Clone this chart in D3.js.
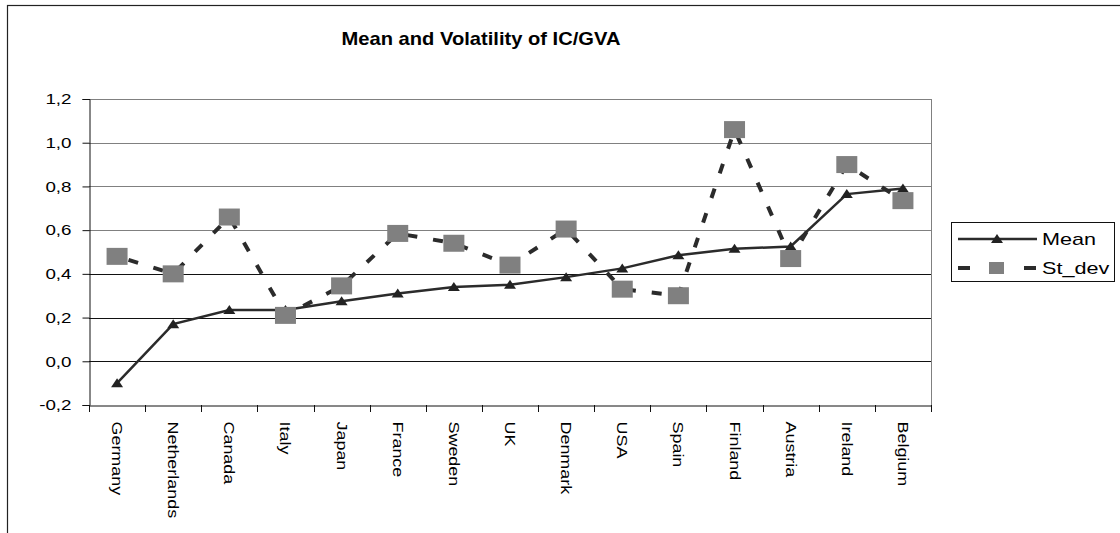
<!DOCTYPE html>
<html>
<head>
<meta charset="utf-8">
<script src="https://cdn.jsdelivr.net/npm/d3@7"></script>
<style>
  body { margin: 0; background: #fff; }
  svg text { font-family: "Liberation Sans", Arial, sans-serif; fill: #000; }
</style>
</head>
<body>
<svg id="chart" width="1120" height="533"></svg>
<script>
// data
var countries = ["Germany", "Netherlands", "Canada", "Italy", "Japan", "France", "Sweden",
    "UK", "Denmark", "USA", "Spain", "Finland", "Austria", "Ireland", "Belgium"];
var meanValues = [-0.10, 0.17, 0.235, 0.235, 0.275, 0.31, 0.34, 0.35, 0.385, 0.425, 0.485, 0.515, 0.525, 0.765, 0.79];
var stdevValues = [0.48, 0.40, 0.66, 0.21, 0.345, 0.585, 0.54, 0.44, 0.605, 0.33, 0.30, 1.06, 0.47, 0.90, 0.735];
var yTicks = [-0.2, 0.0, 0.2, 0.4, 0.6, 0.8, 1.0, 1.2];
var seriesNames = ["Mean", "St_dev"];
var title = "Mean and Volatility of IC/GVA";

var svg = d3.select("#chart");
var plotLeft = 89, plotRight = 931, plotTop = 99, plotBottom = 405;

// excel text looks wider than Arial, stretch it along the baseline
function stretch(sel, k) {
    sel.each(function () {
        var w = this.getComputedTextLength();
        d3.select(this).attr("textLength", w * k).attr("lengthAdjust", "spacingAndGlyphs");
    });
}

var fmt = d3.formatLocale({decimal: ",", thousands: ".", grouping: [3], currency: ["", ""], minus: "-"}).format(".1f");

var x = d3.scaleBand().domain(countries).range([plotLeft, plotRight]);
var y = d3.scaleLinear().domain([-0.2, 1.2]).range([plotBottom, plotTop]);

// chart border (runs off the page on the right and bottom)
svg.append("rect")
    .attr("x", 7.5).attr("y", 5.5)
    .attr("width", 1130).attr("height", 540)
    .attr("fill", "none").attr("stroke", "#222").attr("stroke-width", 1.2);

svg.append("text")
    .attr("x", 481).attr("y", 45)
    .attr("text-anchor", "middle")
    .attr("font-size", 19).attr("font-weight", "bold")
    .text(title)
    .call(stretch, 1.06);

// gridlines
svg.append("g").selectAll("line")
    .data(yTicks.filter(function (d) { return d > -0.2; }))
    .join("line")
    .attr("x1", plotLeft).attr("x2", plotRight)
    .attr("y1", function (d) { return Math.round(y(d)) + 0.5; })
    .attr("y2", function (d) { return Math.round(y(d)) + 0.5; })
    .attr("stroke", function (d) { return d >= 0.6 ? "#808080" : "#111"; })
    .attr("stroke-width", 1);

// right edge of plot area
svg.append("line")
    .attr("x1", plotRight + 0.5).attr("x2", plotRight + 0.5)
    .attr("y1", plotTop).attr("y2", plotBottom)
    .attr("stroke", "#808080");

// y axis
var yAxis = svg.append("g")
    .attr("transform", "translate(" + (plotLeft + 0.5) + ",0)")
    .call(d3.axisLeft(y).tickValues(yTicks).tickSize(7).tickPadding(11).tickFormat(fmt));
yAxis.select(".domain").attr("stroke", "#111");
yAxis.selectAll(".tick line").attr("stroke", "#111");
yAxis.selectAll("text").attr("font-size", 15).attr("fill", "#000").call(stretch, 1.25);

// x axis: line at the bottom, ticks between categories
var xAxis = svg.append("g")
    .attr("transform", "translate(0," + (plotBottom + 0.5) + ")")
    .call(d3.axisBottom(x).tickSize(0).tickPadding(0));
xAxis.select(".domain").attr("stroke", "#111");
xAxis.selectAll(".tick text")
    .attr("font-size", 14)
    .attr("fill", "#000")
    .attr("text-anchor", "start")
    .attr("dy", null)
    .attr("dominant-baseline", "central")
    .attr("transform", "translate(0,16) rotate(90)")
    .call(stretch, 1.28);

svg.append("g").selectAll("line")
    .data(d3.range(countries.length + 1))
    .join("line")
    .attr("x1", function (i) { return Math.round(plotLeft + i * x.step()) + 0.5; })
    .attr("x2", function (i) { return Math.round(plotLeft + i * x.step()) + 0.5; })
    .attr("y1", plotBottom).attr("y2", plotBottom + 7)
    .attr("stroke", "#111");

var cx = function (d, i) { return x(countries[i]) + x.bandwidth() / 2; };

// Mean series
svg.append("path")
    .datum(meanValues)
    .attr("fill", "none")
    .attr("stroke", "#2b2b2b")
    .attr("stroke-width", 2.5)
    .attr("d", d3.line().x(cx).y(function (d) { return y(d); }));

var tri = "M0,-5 L6,4 L-6,4 Z";
svg.append("g").selectAll("path")
    .data(meanValues)
    .join("path")
    .attr("d", tri)
    .attr("fill", "#222")
    .attr("transform", function (d, i) { return "translate(" + cx(d, i) + "," + y(d) + ")"; });

// St_dev series
svg.append("path")
    .datum(stdevValues)
    .attr("fill", "none")
    .attr("stroke", "#2b2b2b")
    .attr("stroke-width", 4)
    .attr("stroke-dasharray", "10,16")
    .attr("stroke-dashoffset", -12)
    .attr("d", d3.line().x(cx).y(function (d) { return y(d); }));

svg.append("g").selectAll("rect")
    .data(stdevValues)
    .join("rect")
    .attr("x", function (d, i) { return cx(d, i) - 10.5; })
    .attr("y", function (d) { return y(d) - 8.5; })
    .attr("width", 21).attr("height", 17)
    .attr("fill", "#808080");

// legend
var lg = svg.append("g").attr("transform", "translate(951,222)");
lg.append("rect")
    .attr("x", 0.5).attr("y", 0.5).attr("width", 163).attr("height", 59)
    .attr("fill", "#fff").attr("stroke", "#111");

lg.append("line")
    .attr("x1", 7).attr("x2", 86).attr("y1", 17).attr("y2", 17)
    .attr("stroke", "#2b2b2b").attr("stroke-width", 2.5);
lg.append("path").attr("d", tri).attr("fill", "#222")
    .attr("transform", "translate(46,17)");

lg.append("line")
    .attr("x1", 7).attr("x2", 86).attr("y1", 46).attr("y2", 46)
    .attr("stroke", "#2b2b2b").attr("stroke-width", 4)
    .attr("stroke-dasharray", "12,21");
lg.append("rect")
    .attr("x", 38).attr("y", 40).attr("width", 15).attr("height", 12)
    .attr("fill", "#808080");

lg.selectAll("text.name")
    .data(seriesNames)
    .join("text")
    .attr("class", "name")
    .attr("x", 91)
    .attr("y", function (d, i) { return 23 + i * 29; })
    .attr("font-size", 17)
    .text(function (d) { return d; })
    .call(stretch, 1.27);
</script>
</body>
</html>
